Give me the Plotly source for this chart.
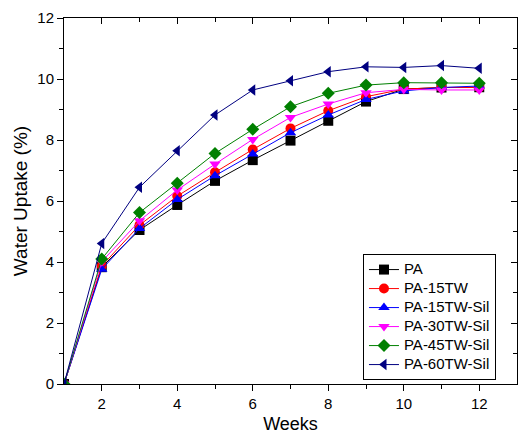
import plotly.graph_objects as go

weeks = [1, 2, 3, 4, 5, 6, 7, 8, 9, 10, 11, 12]
pa = [0, 3.83, 5.05, 5.87, 6.66, 7.34, 7.98, 8.63, 9.26, 9.67, 9.72, 9.73]
pa_15tw = [0, 3.87, 5.21, 6.16, 6.94, 7.69, 8.38, 8.96, 9.42, 9.67, 9.72, 9.72]
pa_15tw_sil = [0, 3.76, 5.10, 6.05, 6.83, 7.54, 8.24, 8.82, 9.33, 9.61, 9.72, 9.77]
pa_30tw_sil = [0, 4.01, 5.35, 6.36, 7.21, 8.02, 8.74, 9.18, 9.55, 9.66, 9.64, 9.64]
pa_45tw_sil = [0, 4.10, 5.62, 6.58, 7.56, 8.35, 9.09, 9.53, 9.80, 9.88, 9.88, 9.86]
pa_60tw_sil = [0, 4.61, 6.45, 7.65, 8.82, 9.64, 9.94, 10.24, 10.40, 10.38, 10.44, 10.35]

series = [
    ("PA", pa, "black", "square"),
    ("PA-15TW", pa_15tw, "red", "circle"),
    ("PA-15TW-Sil", pa_15tw_sil, "blue", "triangle-up"),
    ("PA-30TW-Sil", pa_30tw_sil, "magenta", "triangle-down"),
    ("PA-45TW-Sil", pa_45tw_sil, "green", "diamond"),
    ("PA-60TW-Sil", pa_60tw_sil, "navy", "triangle-left"),
]

fig = go.Figure()
for name, vals, col, sym in series:
    fig.add_trace(go.Scatter(
        x=weeks, y=vals, name='<span style="font-size:15px">%s</span>' % name,
        mode="lines+markers",
        line=dict(color=col, width=1),
        marker=dict(symbol=sym, size=10, color=col),
    ))

# invisible trace for mirrored axes (top/right ticks inside)
fig.add_trace(go.Scatter(x=[1], y=[0], xaxis="x2", yaxis="y2", mode="markers",
                         marker=dict(opacity=0), showlegend=False, hoverinfo="skip"))

font = "Liberation Sans, Arial, sans-serif"
fig.update_layout(
    width=518, height=439,
    margin=dict(l=64, r=1, t=18, b=55, autoexpand=False),
    paper_bgcolor="white", plot_bgcolor="white",
    font=dict(family=font, color="black", size=14),
    showlegend=True,
    legend=dict(
        x=0.66, y=0.355, xanchor="left", yanchor="top",
        bgcolor="white", bordercolor="black", borderwidth=1,
        font=dict(family=font, size=12, color="black"),
        tracegroupgap=0, itemwidth=30,
    ),
    xaxis=dict(
        range=[1, 13], tickvals=[2, 4, 6, 8, 10, 12], automargin=False,
        ticks="outside", ticklen=6, tickwidth=1, tickcolor="black",
        minor=dict(tickvals=[3, 5, 7, 9, 11], ticks="outside", ticklen=4, tickcolor="black"),
        showline=True, linecolor="black", linewidth=1, showgrid=False, zeroline=False,
        title=dict(text="Weeks", font=dict(size=18), standoff=6),
        tickfont=dict(size=15),
    ),
    yaxis=dict(
        range=[0, 12], tickvals=[0, 2, 4, 6, 8, 10, 12], automargin=False,
        ticks="outside", ticklen=6, tickwidth=1, tickcolor="black",
        minor=dict(tickvals=[1, 3, 5, 7, 9, 11], ticks="outside", ticklen=4, tickcolor="black"),
        showline=True, linecolor="black", linewidth=1, showgrid=False, zeroline=False,
        title=dict(text="Water Uptake (%)", font=dict(size=19), standoff=4),
        tickfont=dict(size=15),
    ),
    xaxis2=dict(
        overlaying="x", side="top", range=[1, 13], tickvals=[2, 4, 6, 8, 10, 12], automargin=False,
        ticks="inside", ticklen=6, tickcolor="black", showticklabels=False,
        minor=dict(tickvals=[3, 5, 7, 9, 11], ticks="inside", ticklen=4, tickcolor="black"),
        showline=True, linecolor="black", linewidth=1, showgrid=False, zeroline=False,
    ),
    yaxis2=dict(
        overlaying="y", side="right", range=[0, 12], tickvals=[0, 2, 4, 6, 8, 10, 12], automargin=False,
        ticks="inside", ticklen=6, tickcolor="black", showticklabels=False,
        minor=dict(tickvals=[1, 3, 5, 7, 9, 11], ticks="inside", ticklen=4, tickcolor="black"),
        showline=True, linecolor="black", linewidth=1, showgrid=False, zeroline=False,
    ),
)

fig.write_html("out.html", config={"displayModeBar": False},
               post_script="document.body.style.margin='0';document.body.style.overflow='hidden';")
